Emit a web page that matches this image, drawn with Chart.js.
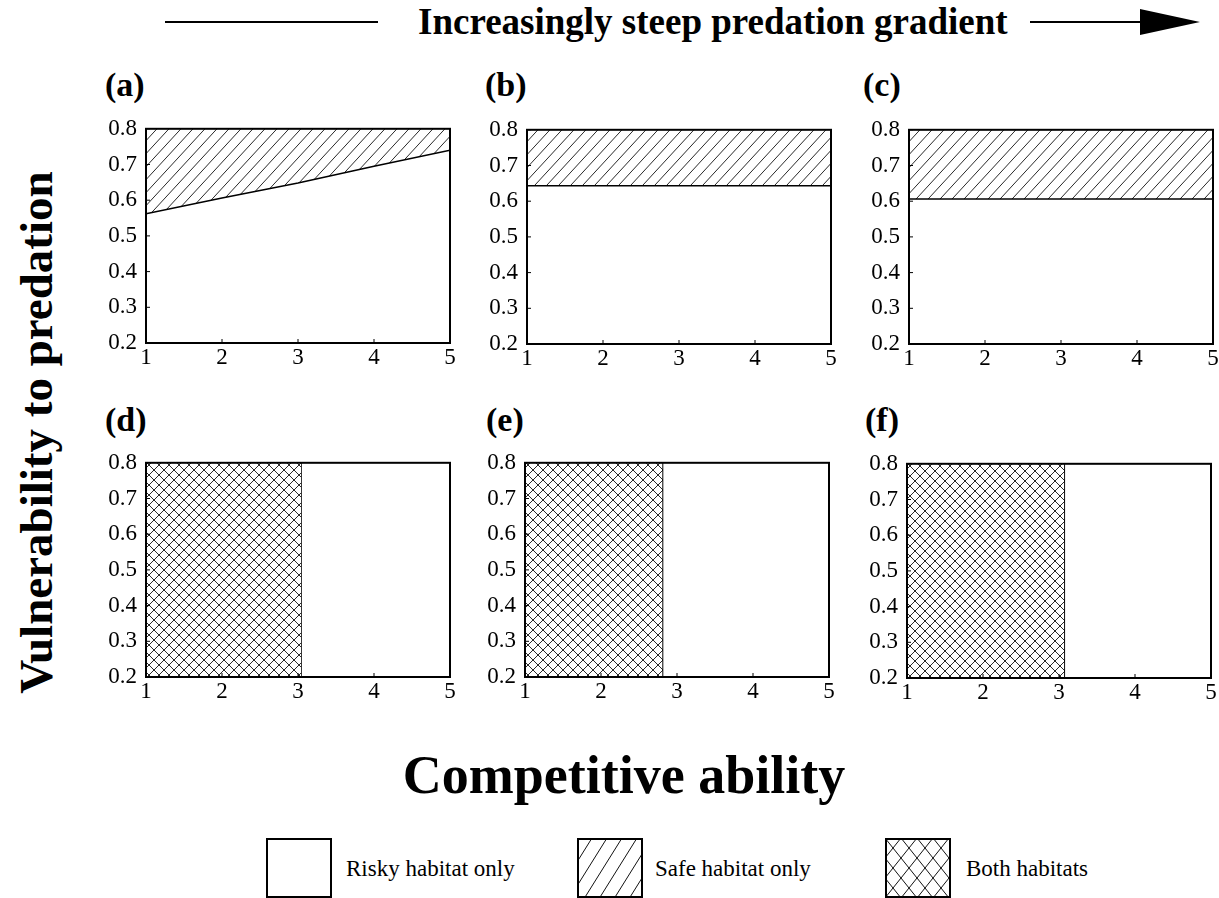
<!DOCTYPE html>
<html>
<head>
<meta charset="utf-8">
<script src="https://cdn.jsdelivr.net/npm/chart.js@4/dist/chart.umd.min.js"></script>
<style>
    body { margin: 0; background: #fff; }
    #page { position: relative; width: 1219px; height: 898px; overflow: hidden; font-family: "Liberation Serif", "Times New Roman", serif; color: #000; }
    .abs { position: absolute; white-space: nowrap; line-height: 1; }
    .panel-canvas { position: absolute; }
    .plabel { font-weight: bold; font-size: 34px; }
    .legend-box { position: absolute; }
    .legend-text { font-size: 23px; }
</style>
</head>
<body>
<div id="page">
    <!-- top arrow -->
    <div class="abs" style="left:165px; top:21px; width:213px; height:2px; background:#000;"></div>
    <div class="abs" id="gradient-title" style="left:418px; top:3px; font-weight:bold; font-size:37px;">Increasingly steep predation gradient</div>
    <div class="abs" style="left:1030px; top:21px; width:115px; height:2px; background:#000;"></div>
    <div class="abs" style="left:1140px; top:9px; width:0; height:0; border-left:60px solid #000; border-top:13px solid transparent; border-bottom:13px solid transparent;"></div>

    <div class="abs" id="y-title" style="left:-264px; top:409px; width:600px; text-align:center; font-weight:bold; font-size:47px; transform:rotate(-90deg);">Vulnerability to predation</div>
    <div class="abs" id="x-title" style="left:324px; top:748px; width:600px; text-align:center; font-weight:bold; font-size:54px;">Competitive ability</div>
</div>

<script>
// values
const competitive = [1, 2, 3, 4, 5];
const boundaryA = [0.562, 0.606, 0.648, 0.695, 0.740];
const boundaryB = [0.643, 0.643, 0.643, 0.643, 0.643];
const boundaryC = [0.606, 0.606, 0.606, 0.606, 0.606];
const bothEdge = [3.04, 2.81, 3.07]; // panels d, e, f
const xLimits = [1, 5];
const yLimits = [0.2, 0.8];
const panelNames = ['(a)', '(b)', '(c)', '(d)', '(e)', '(f)'];
const legendLabels = ['Risky habitat only', 'Safe habitat only', 'Both habitats'];

// layout
const plotW = 304, plotH = 214;
const padL = 52, padT = 14, padR = 12, padB = 32;
const panelBoxes = [
    { left: 146, top: 129 }, { left: 527, top: 130 }, { left: 909, top: 130 },
    { left: 146, top: 463 }, { left: 525, top: 463 }, { left: 907, top: 464 }
];
const labelSpots = [
    { left: 105, top: 68 }, { left: 485, top: 68 }, { left: 863, top: 68 },
    { left: 105, top: 403 }, { left: 486, top: 403 }, { left: 865, top: 403 }
];

const page = document.getElementById('page');
const serif = '"Liberation Serif", "Times New Roman", serif';
Chart.defaults.font.family = serif;

function makePattern(w, h, cross, lw) {
    const c = document.createElement('canvas');
    c.width = w;
    c.height = h;
    const g = c.getContext('2d');
    g.fillStyle = '#fff';
    g.fillRect(0, 0, w, h);
    g.strokeStyle = '#111';
    g.lineWidth = lw;
    g.beginPath();
    for (let x0 = -w; x0 <= w; x0 += w) {
        g.moveTo(x0, h);
        g.lineTo(x0 + w, 0);
        if (cross) {
            g.moveTo(x0, 0);
            g.lineTo(x0 + w, h);
        }
    }
    g.stroke();
    return g.createPattern(c, 'repeat');
}

const framePlugin = {
    id: 'frame',
    afterDraw(chart) {
        const { ctx, chartArea: a, scales } = chart;
        ctx.save();
        ctx.strokeStyle = '#000';
        ctx.lineWidth = 1;
        ctx.beginPath();
        scales.x.ticks.forEach(t => {
            const px = scales.x.getPixelForValue(t.value);
            ctx.moveTo(px, a.bottom);
            ctx.lineTo(px, a.bottom - 4);
        });
        scales.y.ticks.forEach(t => {
            const py = scales.y.getPixelForValue(t.value);
            ctx.moveTo(a.left, py);
            ctx.lineTo(a.left + 4, py);
        });
        ctx.stroke();
        ctx.lineWidth = 2;
        ctx.strokeRect(a.left, a.top, a.right - a.left, a.bottom - a.top);
        ctx.restore();
    }
};

function panelOptions() {
    const tickFont = { family: serif, size: 23 };
    return {
        responsive: false,
        animation: false,
        layout: { padding: { left: 0, top: padT, right: padR, bottom: 0 } },
        plugins: { legend: { display: false }, tooltip: { enabled: false } },
        scales: {
            x: {
                type: 'linear', min: xLimits[0], max: xLimits[1],
                ticks: { stepSize: 1, color: '#000', font: tickFont, padding: 1, maxRotation: 0 },
                grid: { display: false, drawTicks: false },
                border: { display: false },
                afterFit: s => { s.height = padB; }
            },
            y: {
                type: 'linear', min: yLimits[0], max: yLimits[1],
                ticks: { stepSize: 0.1, color: '#000', font: tickFont, padding: 9, callback: v => v.toFixed(1) },
                grid: { display: false, drawTicks: false },
                border: { display: false },
                afterFit: s => { s.width = padL; }
            }
        }
    };
}

function makeCanvas(i) {
    const cv = document.createElement('canvas');
    cv.className = 'panel-canvas';
    cv.width = padL + plotW + padR;
    cv.height = padT + plotH + padB;
    page.appendChild(cv);

    const lab = document.createElement('div');
    lab.className = 'abs plabel';
    lab.style.left = labelSpots[i].left + 'px';
    lab.style.top = labelSpots[i].top + 'px';
    lab.textContent = panelNames[i];
    page.appendChild(lab);
    return cv;
}

// build the chart, grow the canvas if needed and move it so the plot area lands on the reference box
function buildPanel(i, makeConfig) {
    const cv = makeCanvas(i);
    let chart = new Chart(cv, makeConfig());
    const a0 = chart.chartArea;
    const h = a0.bottom - a0.top;
    if (Math.abs(h - plotH) > 0.5) {
        const newH = Math.round(cv.height + plotH - h);
        chart.destroy();
        cv.width = padL + plotW + padR;
        cv.height = newH;
        chart = new Chart(cv, makeConfig());
    }
    const a = chart.chartArea;
    cv.style.left = (panelBoxes[i].left - a.left) + 'px';
    cv.style.top = (panelBoxes[i].top - a.top) + 'px';
    return chart;
}

function drawPanels() {
    // top row: safe habitat above a boundary line
    [boundaryA, boundaryB, boundaryC].forEach((boundary, i) => {
        buildPanel(i, () => ({
            type: 'line',
            data: {
                datasets: [{
                    label: legendLabels[1],
                    data: competitive.map((x, k) => ({ x, y: boundary[k] })),
                    borderColor: '#000',
                    borderWidth: 1.5,
                    pointRadius: 0,
                    tension: 0,
                    fill: 'end',
                    backgroundColor: makePattern(12, 13, false, 0.9)
                }]
            },
            options: panelOptions(),
            plugins: [framePlugin]
        }));
    });

    // bottom row: both habitats left of a switch point
    bothEdge.forEach((edge, j) => {
        buildPanel(j + 3, () => ({
            type: 'line',
            data: {
                datasets: [{
                    label: legendLabels[2],
                    data: [{ x: xLimits[0], y: yLimits[1] }, { x: edge, y: yLimits[1] }],
                    borderWidth: 0,
                    pointRadius: 0,
                    fill: 'start',
                    backgroundColor: makePattern(10, 10, true, 0.9)
                }, {
                    label: 'edge',
                    data: [{ x: edge, y: yLimits[0] }, { x: edge, y: yLimits[1] }],
                    borderColor: '#000',
                    borderWidth: 1.5,
                    pointRadius: 0,
                    fill: false
                }]
            },
            options: panelOptions(),
            plugins: [framePlugin]
        }));
    });

    // legend
    const legendSpots = [
        { box: 266, text: 346, pattern: null },
        { box: 577, text: 655, pattern: [15, 24, false] },
        { box: 885, text: 966, pattern: [16, 20, true] }
    ];
    legendSpots.forEach((spot, i) => {
        const cv = document.createElement('canvas');
        cv.className = 'legend-box';
        cv.width = 66;
        cv.height = 60;
        cv.style.left = spot.box + 'px';
        cv.style.top = '838px';
        page.appendChild(cv);
        const g = cv.getContext('2d');
        g.fillStyle = spot.pattern ? makePattern(spot.pattern[0], spot.pattern[1], spot.pattern[2], 1) : '#fff';
        g.fillRect(0, 0, 66, 60);
        g.strokeStyle = '#000';
        g.lineWidth = 2;
        g.strokeRect(1, 1, 64, 58);

        const t = document.createElement('div');
        t.className = 'abs legend-text';
        t.style.left = spot.text + 'px';
        t.style.top = '857px';
        t.textContent = legendLabels[i];
        page.appendChild(t);
    });
}

document.fonts.load('23px "Liberation Serif"').then(drawPanels, drawPanels);
</script>
</body>
</html>
